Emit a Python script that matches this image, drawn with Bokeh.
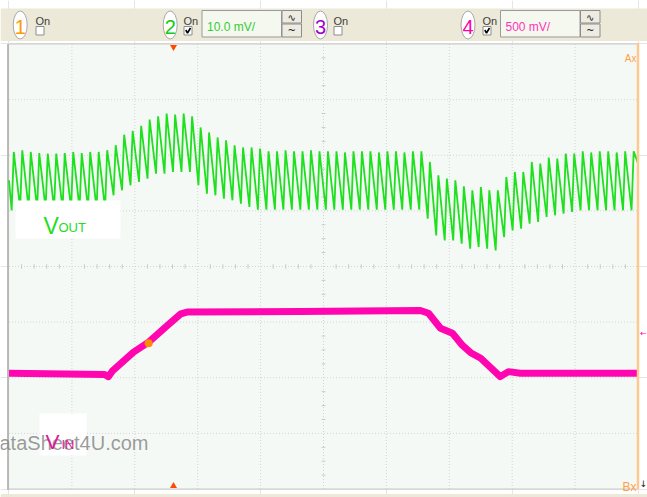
import numpy as np
from bokeh.plotting import figure
from bokeh.models import Range1d
from bokeh.core.properties import value
from bokeh.embed import file_html
from bokeh.resources import INLINE

# ---------------- data (scope divisions: x 0..10, y -4..4) ----------------
ch_numbers = ["1", "2", "3", "4"]
ch_scales = ["", "10.0 mV/", "", "500 mV/"]

grid_x_div = [1, 2, 3, 4, 5, 6, 7, 8, 9]
grid_y_div = [-3, -2, -1, 0, 1, 2, 3]

# Vout (CH2) ripple: one peak and one trough per switching cycle
ripple_first_peak_div = 0.076
ripple_period_div = 0.1350
vout_start_div = 1.55
vout_peak_div = [2.06, 2.09, 2.06, 2.04, 2.03, 2.03, 2.04, 2.06, 2.04, 2.06, 2.06,
                 2.09, 2.18, 2.37, 2.44, 2.53, 2.64, 2.70, 2.75, 2.73, 2.75, 2.70,
                 2.50, 2.41, 2.32, 2.27, 2.18, 2.14, 2.14, 2.12,
                 2.07, 2.07, 2.09, 2.07, 2.07, 2.09, 2.07, 2.07, 2.07, 2.05, 2.07,
                 2.07, 2.07, 2.05, 2.07, 2.07, 2.05, 2.07,
                 2.07, 1.88, 1.64, 1.58, 1.55, 1.44, 1.37, 1.43, 1.37, 1.37, 1.61,
                 1.70, 1.70, 1.88, 1.85, 1.96, 1.94, 2.03, 2.03,
                 2.07, 2.05, 2.07, 2.07, 2.05, 2.07, 2.07]
vout_trough_div = [1.01,
                   1.04, 1.04, 1.04, 1.04, 1.04, 1.04, 1.04, 1.04, 1.04, 1.04, 1.04,
                   1.28, 1.37, 1.46, 1.52, 1.58, 1.67, 1.67, 1.70, 1.70, 1.70,
                   1.46, 1.31, 1.28, 1.22, 1.19, 1.13, 1.07,
                   1.02, 1.02, 1.02, 1.02, 1.02, 1.02, 1.02, 1.02, 1.02, 1.02,
                   1.02, 1.02, 1.02, 1.02, 1.02, 1.02, 1.02, 1.02, 1.02, 1.02,
                   0.86, 0.56, 0.47, 0.47, 0.41, 0.32, 0.35, 0.32, 0.29, 0.53,
                   0.65, 0.68, 0.77, 0.80, 0.89, 0.92, 0.95, 0.98,
                   1.01, 1.01, 1.01, 1.01, 1.01, 1.01, 1.01, 1.01]

# Vin (CH4) trace
vin_t_div = [0, 1.52, 1.58, 1.65, 1.98, 2.22, 2.52, 2.73, 2.83, 4.63, 6.54,
             6.67, 6.86, 7.05, 7.21, 7.34, 7.50, 7.66, 7.81, 7.94, 8.13, 10]
vin_div = [-1.92, -1.94, -1.98, -1.87, -1.54, -1.36, -1.06, -0.85, -0.82, -0.81, -0.79,
           -0.84, -1.11, -1.20, -1.42, -1.55, -1.65, -1.82, -1.98, -1.89, -1.92, -1.92]

trigger_t_div = [2.22]
trigger_v_div = [-1.38]

# ---------------- build Vout trace ----------------
vx = [0.0]
vy = [vout_start_div]
for k, pk in enumerate(vout_peak_div):
    tp = ripple_first_peak_div + k * ripple_period_div
    vx.append(tp - 0.25 * ripple_period_div)
    vy.append(vout_trough_div[k])
    vx.append(tp)
    vy.append(pk)
vx.append(10.0)
vy.append(vout_peak_div[-1] - 0.2 * (vout_peak_div[-1] - vout_trough_div[-1]))

# ---------------- figure ----------------
W, H = 647, 497
p = figure(width=W, height=H, output_backend="svg", toolbar_location=None,
           x_range=Range1d(-0.1351, 10.1510), y_range=Range1d(-4.1528, 4.7820),
           min_border=0, x_axis_location=None, y_axis_location=None,
           background_fill_color="white", border_fill_color="white",
           outline_line_color=None)
p.extra_x_ranges = {"px": Range1d(0, W)}
p.extra_y_ranges = {"px": Range1d(H, 0)}
PX = dict(x_range_name="px", y_range_name="px")
F = value("Liberation Sans")

# top toolbar and bottom strip
p.quad(left=[0], right=[W], top=[8], bottom=[40.5], fill_color="#ece9d8", line_color=None, **PX)
p.quad(left=[0], right=[W], top=[493.5], bottom=[H], fill_color="#ece9d8", line_color=None, **PX)

# plot area
p.quad(left=[0], right=[10], bottom=[-4], top=[4], fill_color="#f5f9f6", line_color=None)
p.segment(x0=grid_x_div, x1=grid_x_div, y0=[-4] * len(grid_x_div), y1=[4] * len(grid_x_div),
          line_color="#d2d4d2", line_dash="1 2", line_width=1)
p.segment(x0=[0] * len(grid_y_div), x1=[10] * len(grid_y_div), y0=grid_y_div, y1=grid_y_div,
          line_color="#d2d4d2", line_dash="1 2", line_width=1)
tx = [t for t in np.arange(0.2, 10, 0.2) if abs(t - round(t)) > 1e-6]
p.segment(x0=tx, x1=tx, y0=[-0.04] * len(tx), y1=[0.04] * len(tx), line_color="#c8cac8", line_width=1)
ty = [t for t in np.arange(-3.75, 4, 0.25) if abs(t - round(t)) > 1e-6]
p.segment(x0=[4.97] * len(ty), x1=[5.03] * len(ty), y0=ty, y1=ty, line_color="#c8cac8", line_width=1)
# borders
p.segment(x0=[0, 0], x1=[10, 10], y0=[4, -4], y1=[4, -4], line_color="#c8c8c8", line_width=1)
p.segment(x0=[-0.015], x1=[-0.015], y0=[-4.02], y1=[4], line_color="#b8b8b8", line_width=2)

# traces
p.line(vx, vy, line_color="#1ee01e", line_width=1.8)
p.line(vin_t_div, vin_div, line_color="#ff06b0", line_width=7, line_join="round")
p.scatter(trigger_t_div, trigger_v_div, size=8, fill_color="#ff8c00", line_color=None)

# cursor line
p.segment(x0=[10], x1=[10], y0=[-4], y1=[4.02], line_color="#ffc890", line_width=2.5)

# labels boxes
p.quad(left=[15], right=[120], top=[200], bottom=[238], fill_color="white", line_color=None, **PX)
p.quad(left=[39], right=[86], top=[413], bottom=[455], fill_color="white", line_color=None, **PX)
p.text(x=[43], y=[225.5], text=["V"], text_font=F, text_font_size="23px",
       text_color="#22dd22", text_baseline="alphabetic", **PX)
p.text(x=[58], y=[226.5], text=["OUT"], text_font=F, text_font_size="13px",
       text_color="#22dd22", text_baseline="alphabetic", **PX)
p.text(x=[-1], y=[442], text=["ataSheet4U.com"], text_font=F, text_font_size="20px",
       text_color="#8a8a8a", text_alpha=0.85, text_align="left", text_baseline="alphabetic", **PX)
p.text(x=[45], y=[440.5], text=["V"], text_font=F, text_font_size="21px",
       text_color="#dd1a98", text_baseline="alphabetic", **PX)
p.text(x=[61], y=[443.5], text=["IN"], text_font=F, text_font_size="13px",
       text_color="#dd1a98", text_baseline="alphabetic", **PX)

# trigger markers / cursors
p.scatter([173], [46.5], marker="inverted_triangle", size=7, fill_color="#ff4a00", line_color=None, **PX)
p.scatter([173], [485.5], marker="triangle", size=7, fill_color="#ff4a00", line_color=None, **PX)
p.text(x=[636], y=[57.5], text=["Ax"], text_font=F, text_font_size="10px", text_color="#ffa040",
       text_align="right", text_baseline="alphabetic", **PX)
p.text(x=[636], y=[486.5], text=["Bx"], text_font=F, text_font_size="12px", text_color="#ffa040",
       text_align="right", text_baseline="alphabetic", **PX)
p.text(x=[643], y=[333], text=["←"], text_font=value("DejaVu Sans"), text_font_size="8px",
       text_color="#ff00aa", text_align="center", text_baseline="middle", **PX)
p.text(x=[643], y=[483], text=["↓"], text_font=value("DejaVu Sans"), text_font_size="9px",
       text_color="#202020", text_align="center", text_baseline="middle", **PX)

# channel widgets
ch_cx = [19.7, 169.7, 320, 467.5]
ch_colors = ["#ff9900", "#11cc11", "#a000cc", "#ff00aa"]
on_x = [35, 183, 333, 482]
p.ellipse(x=ch_cx, y=[24.5] * 4, width=[14] * 4, height=[28] * 4,
          fill_color="white", line_color="#a8a8a8", line_width=1, **PX)
p.text(x=ch_cx, y=[26] * 4, text=ch_numbers, text_font=F, text_font_size="20px",
       text_color=ch_colors, text_align="center", text_baseline="middle", **PX)
p.text(x=on_x, y=[20] * 4, text=["On"] * 4, text_font=F, text_font_size="11px",
       text_color="#404040", text_baseline="alphabetic", **PX)
p.quad(left=[x + 0.5 for x in on_x], right=[x + 8.5 for x in on_x], top=[26] * 4, bottom=[34.5] * 4,
       fill_color="white", line_color="#8c8c8c", line_width=1, **PX)
for cx in (on_x[1], on_x[3]):
    p.line([cx + 2.3, cx + 4, cx + 7], [29.5, 32.5, 27.5], line_color="black", line_width=1.6, **PX)

box_l = [201.5, 500]
p.quad(left=box_l, right=[x + 79.5 for x in box_l], top=[10] * 2, bottom=[36.5] * 2,
       fill_color="#f5f8ef", line_color="#9a9a9a", line_width=1, **PX)
p.text(x=[x + 5 for x in box_l], y=[26] * 2, text=[ch_scales[1], ch_scales[3]], text_font=F,
       text_font_size="12px", text_color=["#33cc33", "#ff33bb"], text_baseline="alphabetic", **PX)
btn_l = [281.5, 580]
p.quad(left=btn_l * 2, right=[x + 19.5 for x in btn_l] * 2, top=[10, 10, 23.5, 23.5],
       bottom=[22.5, 22.5, 36.5, 36.5], fill_color="#eeece2", line_color="#8c8c8c", line_width=1, **PX)
p.text(x=[x + 9.75 for x in btn_l] * 2, y=[16.5, 16.5, 30, 30], text=["∿", "∿", "~", "~"],
       text_font=value("DejaVu Sans"), text_font_size="10px", text_color="#202020",
       text_align="center", text_baseline="middle", **PX)

open("out.html", "w").write(file_html(p, INLINE))
